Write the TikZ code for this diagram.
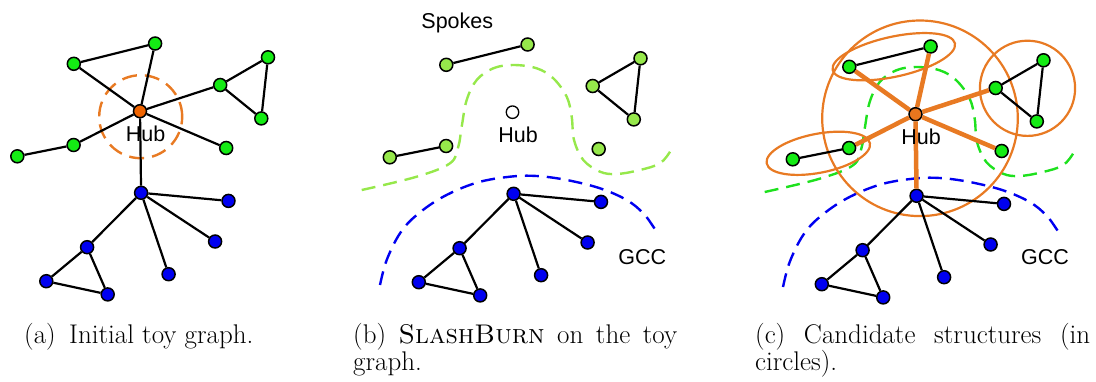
\documentclass[tikz,border=0pt]{standalone}
\usepackage{fontspec}
\newfontfamily\labelfont{Liberation Sans}
\definecolor{colGA}{RGB}{20,235,20}
\definecolor{colGB}{RGB}{150,232,75}
\definecolor{colGC}{RGB}{30,225,30}
\definecolor{colBlue}{RGB}{0,0,240}
\definecolor{colHubA}{RGB}{240,100,0}
\definecolor{colHubC}{RGB}{232,118,30}
\definecolor{colOr}{RGB}{232,122,35}
\newcommand\toygraph[4]{%
  \node[#3] (#1hub) at (140,111.2) {};
  \node[#2] (#1g1) at (73.8,63.8) {};
  \node[#2] (#1g2) at (155.1,43.5) {};
  \node[#2] (#1g3) at (220.2,85) {};
  \node[#2] (#1g4) at (268,57.3) {};
  \node[#2] (#1g5) at (261.3,118.4) {};
  \node[#2] (#1g6) at (73.6,145) {};
  \node[#2] (#1g7) at (17.3,156.3) {};
  \node[#2] (#1g8) at (226.2,148) {};
  \node[bnode] (#1b0) at (141.1,192.8) {};
  \node[bnode] (#1b1) at (228.5,200.9) {};
  \node[bnode] (#1b2) at (215.1,241.5) {};
  \node[bnode] (#1b3) at (168.6,274.2) {};
  \node[bnode] (#1b4) at (87.1,247.2) {};
  \node[bnode] (#1b5) at (46.3,281.2) {};
  \node[bnode] (#1b6) at (107.7,294.4) {};
  \draw[edge] (#1g1) -- (#1g2) (#1g3) -- (#1g4) (#1g3) -- (#1g5) (#1g4) -- (#1g5)
    (#1g6) -- (#1g7) (#1b0) -- (#1b1) (#1b0) -- (#1b2) (#1b0) -- (#1b3)
    (#1b0) -- (#1b4) (#1b4) -- (#1b5) (#1b4) -- (#1b6) (#1b5) -- (#1b6);
  \draw[#4] (#1hub) -- (#1g1) (#1hub) -- (#1g2) (#1hub) -- (#1g3)
    (#1hub) -- (#1g6) (#1hub) -- (#1g8) (#1hub) -- (#1b0);
  \node[lab] (#1hublabel) at (145.5,133.5) {Hub};
}
\begin{document}
\begin{tikzpicture}[x=1pt,y=-1pt,
  vtx/.style={circle,draw=black,line width=1.5pt,inner sep=0pt,minimum size=13pt},
  gnode/.style={vtx,fill=colGA},
  lgnode/.style={vtx,fill=colGB},
  bnode/.style={vtx,fill=colBlue},
  hubfull/.style={vtx,fill=colHubA},
  hubopen/.style={vtx,fill=white,line width=1.3pt,minimum size=12.5pt},
  hubcand/.style={vtx,fill=colHubC},
  edge/.style={line width=2.2pt,black},
  burnt/.style={line width=4.5pt,colOr},
  noedge/.style={draw=none},
  lab/.style={font=\labelfont\fontsize{21.5}{24}\selectfont,inner sep=0pt},
  captxt/.style={font=\fontsize{27}{27.5}\selectfont,inner sep=0pt,align=left,anchor=base west},
  gccline/.style={draw=colBlue,line width=2.4pt,dash pattern=on 14pt off 8pt},
  spokeline/.style={line width=2.4pt,dash pattern=on 14pt off 8pt},
  hubring/.style={draw=colOr,line width=2.4pt,dash pattern=on 15pt off 8pt},
  cand/.style={draw=colOr,line width=2.2pt}
]
\useasboundingbox (0,0) rectangle (1096,381);
\def\greencurve{(-10.8,189) (44.2,175.7) (77.5,162.3) (85.8,145.7) (89.2,125.7) (94.2,99) (104.2,79) (120.8,67.3) (140.8,64) (164.2,67.3) (180.8,77.3) (194.2,95.7) (199.2,115.7) (201.5,139) (210.8,159) (227.5,170.7) (244.2,173) (267.5,169) (287.5,162.3) (297.5,150.7)}
\def\bluecurve{(7.5,284) (14.2,259) (27.5,232.3) (44.2,214) (70.8,195.7) (104.2,181.7) (137.5,175.7) (164.2,175) (194.2,179) (227.5,187.3) (254.2,199) (270.8,212.3) (280.8,225.7) (283.5,230)}
% (a)
\begin{scope}
  \draw[hubring] (140.7,116.7) circle[radius=41.5pt];
  \toygraph{a}{gnode}{hubfull}{edge}
\end{scope}
% (b)
\begin{scope}[shift={(372.5,1)}]
  \draw[spokeline,draw=colGB] plot[smooth,tension=0.6] coordinates \greencurve;
  \draw[gccline] plot[smooth,tension=0.6] coordinates \bluecurve;
  \toygraph{b}{lgnode}{hubopen}{noedge}
  \node[lab] (spokes) at (84.8,21.7) {Spokes};
  \node[lab] (bgcc) at (269.8,255.7) {GCC};
\end{scope}
% (c)
\begin{scope}[shift={(775.5,3)}]
  \draw[spokeline,draw=colGC] plot[smooth,tension=0.6] coordinates \greencurve;
  \draw[gccline] plot[smooth,tension=0.6] coordinates \bluecurve;
  \draw[cand] (144.5,115.3) circle[radius=97.8pt];
  \draw[cand] (252,85.3) circle[radius=47.6pt];
  \draw[cand,rotate around={12.3:(118.3,53.7)}] (118.3,53.7) ellipse[x radius=62.6pt,y radius=20pt];
  \draw[cand,rotate around={11:(42.8,150.3)}] (42.8,150.3) ellipse[x radius=52.6pt,y radius=19.5pt];
  \toygraph{c}{gnode}{hubcand}{burnt}
  \node[lab] (cgcc) at (269.5,254.3) {GCC};
\end{scope}
% captions
\node[captxt] (capa) at (24,343) {(a)\enspace Initial toy graph.};
\node[captxt] (capb) at (353,370.5) {\makebox[324pt][s]{(b) \textsc{SlashBurn} on the toy}\\graph.};
\node[captxt] (capc) at (755,370.5) {\makebox[335pt][s]{(c) Candidate structures (in}\\circles).};
\end{tikzpicture}
\end{document}
